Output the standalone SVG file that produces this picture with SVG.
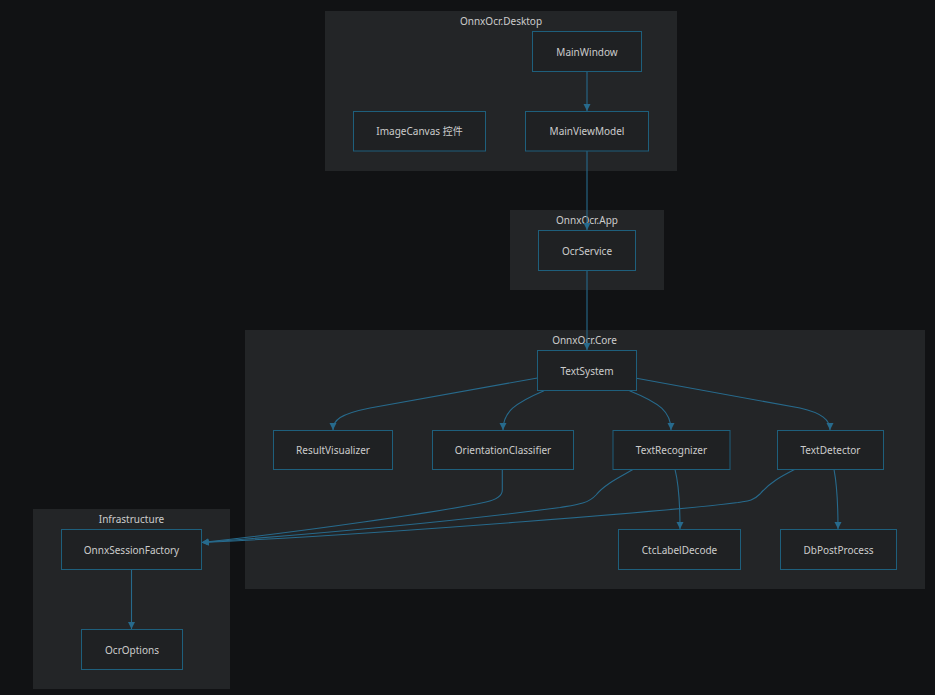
<svg xmlns="http://www.w3.org/2000/svg" width="935" height="695" viewBox="0 0 935 695">
<style>
.bg{fill:#111214}
.cluster rect{fill:#232527;stroke:none}
.cluster text{fill:#cccccc;font-family:"Noto Sans","DejaVu Sans",sans-serif;font-size:10px;text-anchor:middle;dominant-baseline:central}
.node rect{fill:#1f2123;stroke:#1e5f7c;stroke-width:1}
.node text{fill:#cccccc;font-family:"Noto Sans","Noto Sans CJK SC",sans-serif;font-size:10px;text-anchor:middle;dominant-baseline:central}
.edges path{fill:none;stroke:#276a8c;stroke-width:1.1}
</style>
<defs>
<marker id="arr" markerUnits="userSpaceOnUse" markerWidth="8" markerHeight="8" refX="7" refY="3.5" orient="auto">
<path d="M0,0 L7,3.5 L0,7 z" fill="#276a8c"/>
</marker>
</defs>
<rect class="bg" x="0" y="0" width="935" height="695"/>
<g id="cluster-desktop" class="cluster"><rect x="325" y="11" width="352" height="160"/><text x="501" y="20.5">OnnxOcr.Desktop</text></g>
<g id="cluster-app" class="cluster"><rect x="510" y="210" width="154" height="80"/><text x="587" y="219.5">OnnxOcr.App</text></g>
<g id="cluster-core" class="cluster"><rect x="245" y="330" width="680" height="259"/><text x="584.5" y="339.5">OnnxOcr.Core</text></g>
<g id="cluster-infra" class="cluster"><rect x="33" y="509" width="197" height="180"/><text x="131.5" y="518.5">Infrastructure</text></g>
<g class="edges" id="edges">
<path d="M587,71 L587,111" marker-end="url(#arr)"/>
<path d="M587,151 L587,230" marker-end="url(#arr)"/>
<path d="M587,270 L587,350" marker-end="url(#arr)"/>
<path d="M537.5,378 L370,408 C340,414 333,420 333,430" marker-end="url(#arr)"/>
<path d="M544,390.7 C515,403 503,412 503,430" marker-end="url(#arr)"/>
<path d="M629.5,390.7 C660,403 671,412 671,430" marker-end="url(#arr)"/>
<path d="M636.5,378.3 L800,408 C822,413 830,420 830,430" marker-end="url(#arr)"/>
<path d="M502.3,469.3 L502.3,490 C502.3,497 495,500 486,502 C440,512 300,532 201.7,542.5" marker-end="url(#arr)"/>
<path d="M633.3,469.3 C620,477 605,484 596,495 C588,504 575,505 560,507.5 C450,522 300,535 201.7,542.5" marker-end="url(#arr)"/>
<path d="M795,469.3 C782,476 770,482 760,494 C752,502 745,501 738,502.5 C680,510 400,533 201.7,542.5" marker-end="url(#arr)"/>
<path d="M675,469.3 C679,485 680,500 680,529" marker-end="url(#arr)"/>
<path d="M834,469.3 C837,485 838,500 838,529" marker-end="url(#arr)"/>
<path d="M131.5,569.3 L131.5,629" marker-end="url(#arr)"/>
</g>
<g id="MainWindow" class="node"><rect x="532.5" y="31.5" width="109" height="40"/><text x="587" y="51.5">MainWindow</text></g>
<g id="ImageCanvas" class="node"><rect x="353.5" y="111.5" width="132" height="39.5"/><text x="419.5" y="131">ImageCanvas 控件</text></g>
<g id="MainViewModel" class="node"><rect x="525.5" y="111.5" width="123" height="39.5"/><text x="587" y="131">MainViewModel</text></g>
<g id="OcrService" class="node"><rect x="538.5" y="230.5" width="97" height="40"/><text x="587" y="250.5">OcrService</text></g>
<g id="TextSystem" class="node"><rect x="537.5" y="350.5" width="99" height="40"/><text x="587" y="370.5">TextSystem</text></g>
<g id="ResultVisualizer" class="node"><rect x="273.5" y="430.5" width="119" height="39"/><text x="333" y="450">ResultVisualizer</text></g>
<g id="OrientationClassifier" class="node"><rect x="432.5" y="430.5" width="141" height="39"/><text x="503" y="450">OrientationClassifier</text></g>
<g id="TextRecognizer" class="node"><rect x="613" y="430.5" width="117" height="39"/><text x="671.5" y="450">TextRecognizer</text></g>
<g id="TextDetector" class="node"><rect x="777.5" y="430.5" width="106" height="39"/><text x="830.5" y="450">TextDetector</text></g>
<g id="OnnxSessionFactory" class="node"><rect x="61.5" y="529.5" width="140" height="40"/><text x="131.5" y="549.5">OnnxSessionFactory</text></g>
<g id="CtcLabelDecode" class="node"><rect x="618.5" y="529.5" width="122" height="40"/><text x="679.5" y="549.5">CtcLabelDecode</text></g>
<g id="DbPostProcess" class="node"><rect x="780.5" y="529.5" width="116" height="40"/><text x="838.5" y="549.5">DbPostProcess</text></g>
<g id="OcrOptions" class="node"><rect x="81.5" y="629.5" width="101" height="40"/><text x="132" y="649.5">OcrOptions</text></g>
</svg>
